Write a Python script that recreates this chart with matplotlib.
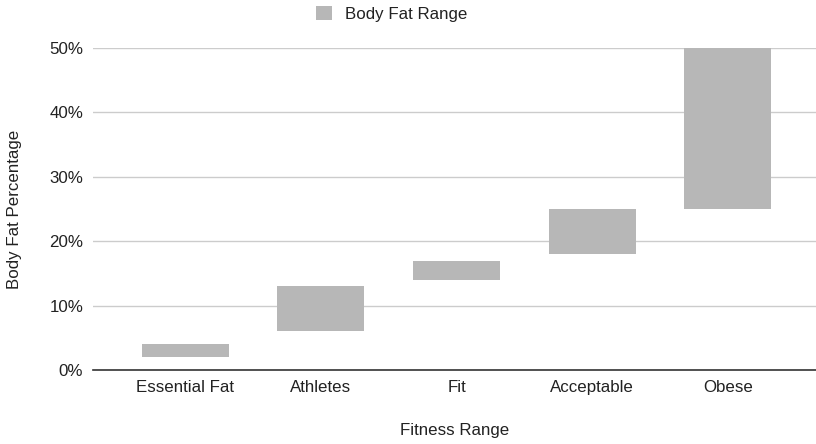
import matplotlib.pyplot as plt
from matplotlib.patches import Patch

categories = ["Essential Fat", "Athletes", "Fit", "Acceptable", "Obese"]
range_low = [2, 6, 14, 18, 25]
range_high = [4, 13, 17, 25, 50]
y_ticks = [0, 10, 20, 30, 40, 50]
y_tick_labels = ["0%", "10%", "20%", "30%", "40%", "50%"]

plt.rcParams["font.family"] = ["Liberation Sans", "DejaVu Sans"]

bar_color = "#b7b7b7"
text_color = "#222222"
fs = 12.2

fig = plt.figure(figsize=(8.16, 4.44), dpi=100)
ax = fig.add_axes([93 / 816, 1 - 370 / 444, 1 - 93 / 816, (370 - 48) / 444])

x = list(range(len(categories)))
heights = [h - l for l, h in zip(range_low, range_high)]
ax.bar(x, heights, bottom=range_low, width=0.64, color=bar_color, zorder=3,
       clip_on=False)

ax.set_xlim(-0.68, 4.65)
ax.set_ylim(0, 50)
ax.set_yticks(y_ticks)
ax.set_yticklabels(y_tick_labels)
ax.set_xticks(x)
ax.set_xticklabels(categories)

ax.grid(axis="y", color="#cccccc", linewidth=1, zorder=0)
for s in ["top", "right", "left"]:
    ax.spines[s].set_visible(False)
ax.spines["bottom"].set_color("#333333")
ax.spines["bottom"].set_linewidth(1.2)
ax.spines["bottom"].set_zorder(4)
ax.tick_params(axis="both", length=0, labelsize=fs, colors=text_color)
ax.tick_params(axis="y", pad=7)
ax.tick_params(axis="x", pad=7)

ax.set_xlabel("Fitness Range", fontsize=fs, color=text_color)
ax.xaxis.set_label_coords((455 - 93) / 723, -(430 - 370) / 322)
ax.xaxis.label.set_va("center")
ax.set_ylabel("Body Fat Percentage", fontsize=fs, color=text_color)
ax.yaxis.set_label_coords((15 - 93) / 723, 0.5)
ax.yaxis.label.set_va("center")

handle = Patch(facecolor=bar_color, edgecolor="none")
fig.legend([handle], ["Body Fat Range"], loc="center", bbox_to_anchor=(392 / 816, 1 - 14 / 444),
           frameon=False, fontsize=fs, handlelength=0.9, handleheight=0.9,
           handletextpad=0.8, borderaxespad=0, labelcolor=text_color)

fig.savefig("out.png", dpi=100)
